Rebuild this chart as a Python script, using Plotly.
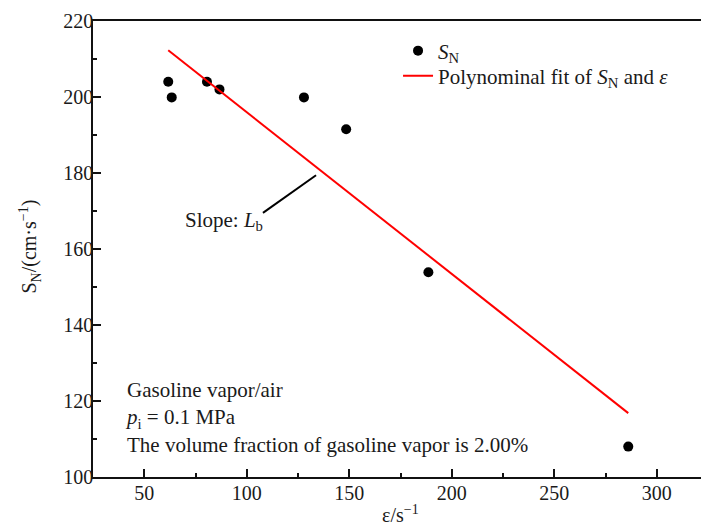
import plotly.graph_objects as go

# Data
strain_rate = [61.7, 63.4, 80.6, 86.7, 127.9, 148.5, 188.6, 286.1]
sn_values = [204.0, 199.9, 204.0, 202.0, 199.9, 191.5, 153.9, 108.0]
fit_x = [61.7, 286.1]
fit_y = [212.3, 116.8]
x_ticks = [50, 100, 150, 200, 250, 300]
y_ticks = [100, 120, 140, 160, 180, 200, 220]

FONT = "Liberation Serif"
TXT = "#1a1a1a"

fig = go.Figure()
fig.add_trace(go.Scatter(
    x=strain_rate, y=sn_values, mode="markers",
    marker=dict(color="black", size=10),
    name="<i>S</i><sub>N</sub>", legend="legend",
))
fig.add_trace(go.Scatter(
    x=fit_x, y=fit_y, mode="lines",
    line=dict(color="#ff0000", width=2),
    name="Polynominal fit of <i>S</i><sub>N</sub> and <i>ε</i>", legend="legend2",
))

axis_common = dict(
    showline=True, linecolor="#111", linewidth=1.5, mirror=True,
    ticks="inside", ticklen=8, tickwidth=1.5, tickcolor="#111",
    showgrid=False, zeroline=False, automargin=False,
    tickfont=dict(family=FONT, size=20, color=TXT),
)

fig.update_xaxes(
    range=[25, 325], tickvals=x_ticks, ticktext=[str(v) for v in x_ticks],
    minor=dict(ticks="inside", ticklen=4, tickwidth=1.5, tickcolor="#111", dtick=25, tick0=25),
    ticklabelstandoff=-3,
    **axis_common,
)
fig.update_yaxes(
    range=[100, 220], tickvals=y_ticks, ticktext=[str(v) for v in y_ticks],
    minor=dict(ticks="inside", ticklen=4, tickwidth=1.5, tickcolor="#111", dtick=10, tick0=100),
    ticklabelstandoff=-6,
    **axis_common,
)

# axis titles
fig.add_annotation(xref="paper", yref="paper", x=0.5, y=-0.082, xanchor="center", yanchor="middle",
                   showarrow=False, text="ε/s<sup>−1</sup>",
                   font=dict(family=FONT, size=20, color=TXT))
fig.add_annotation(xref="paper", yref="paper", x=-0.102, y=0.506, xanchor="center", yanchor="middle",
                   showarrow=False, textangle=-90, text="S<sub>N</sub>/(cm·s<sup>−1</sup>)",
                   font=dict(family=FONT, size=20, color=TXT))

fig.add_annotation(
    xref="paper", yref="paper", x=0.049, y=0.1294, xanchor="left", yanchor="middle",
    align="left", showarrow=False,
    text="Gasoline vapor/air<br><i>p</i><sub>i</sub> = 0.1 MPa<br>The volume fraction of gasoline vapor is 2.00%",
    font=dict(family=FONT, size=21, color=TXT),
)
fig.add_annotation(
    xref="paper", yref="paper", x=0.146, y=0.5614, xanchor="left", yanchor="middle",
    showarrow=False, text="Slope: <i>L</i><sub>b</sub>",
    font=dict(family=FONT, size=21, color=TXT),
)
fig.add_shape(type="line", xref="x", yref="y", x0=107.9, y0=169.5, x1=133.8, y1=179.4,
              line=dict(color="black", width=2))

leg_common = dict(xanchor="left", yanchor="middle", bgcolor="rgba(0,0,0,0)",
                  font=dict(family=FONT, size=21, color=TXT), itemwidth=30)
fig.update_layout(
    width=709, height=528,
    margin=dict(l=85, r=9, t=13, b=59),
    paper_bgcolor="white", plot_bgcolor="white",
    showlegend=True,
    legend=dict(x=0.496, y=1 - 30 / 456, **leg_common),
    legend2=dict(x=0.496, y=1 - 55 / 456, **leg_common),
    font=dict(family=FONT),
)

fig.write_html("out.html")
